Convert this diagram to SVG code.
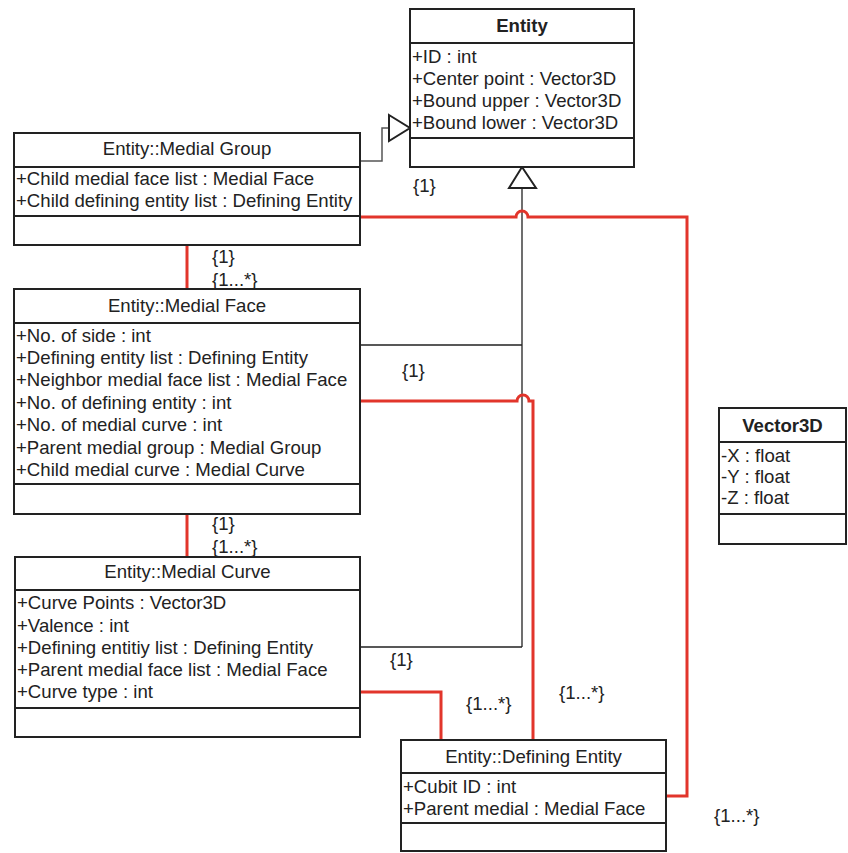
<svg xmlns="http://www.w3.org/2000/svg" width="848" height="853" viewBox="0 0 848 853">
<style>
.box{fill:#fff;stroke:#222;stroke-width:2}
.div{stroke:#222;stroke-width:2}
text{font-family:"Liberation Sans",Arial,sans-serif;font-size:18.6px;fill:#222}
.t{text-anchor:middle}
.b{font-weight:bold}
.red{fill:none;stroke:#e2352b;stroke-width:3}
.blk{fill:none;stroke:#222;stroke-width:1.3}
.gry{fill:none;stroke:#555;stroke-width:1.5}
.tri{fill:#fff;stroke:#222;stroke-width:2;stroke-linejoin:miter}
</style>
<rect width="848" height="853" fill="#fff"/>
<g id="connectors">
<path class="gry" d="M360 161 H382 V128 H389"/>
<path class="blk" d="M522 188 V647 M360 345 H522 M360 647 H522"/>
<path class="red" d="M360 217 H516 a6 6 0 0 1 12 0 H687 V796 H666"/>
<path class="red" d="M360 401 H517 a6 6 0 0 1 12 0 H533 V740"/>
<path class="red" d="M360 692 H441 V740"/>
<path class="red" d="M187 245 V289"/>
<path class="red" d="M187 514 V557"/>
<polygon class="tri" points="389,115 410,128 389,141"/>
<polygon class="tri" points="522,167 536,188 509,188"/>
<text x="413" y="192">{1}</text>
<text x="402" y="377">{1}</text>
<text x="390" y="666">{1}</text>
<text x="466" y="710">{1...*}</text>
<text x="559" y="699">{1...*}</text>
<text x="714" y="822">{1...*}</text>
<text x="212" y="263">{1}</text>
<text x="212" y="286">{1...*}</text>
<text x="212" y="530">{1}</text>
<text x="212" y="553">{1...*}</text>
</g>
<g id="entity">
<rect class="box" x="410" y="9" width="224" height="158"/>
<path class="div" d="M410 43 H634 M410 138 H634"/>
<text class="t b" x="522" y="32">Entity</text>
<text x="412" y="63">+ID : int</text>
<text x="412" y="85">+Center point : Vector3D</text>
<text x="412" y="107">+Bound upper : Vector3D</text>
<text x="412" y="129">+Bound lower : Vector3D</text>
</g>
<g id="medial-group">
<rect class="box" x="14" y="133" width="346" height="112"/>
<path class="div" d="M14 167 H360 M14 216 H360"/>
<text class="t" x="187" y="155">Entity::Medial Group</text>
<text x="16" y="185">+Child medial face list : Medial Face</text>
<text x="16" y="207">+Child defining entity list : Defining Entity</text>
</g>
<g id="medial-face">
<rect class="box" x="14" y="289" width="346" height="225"/>
<path class="div" d="M14 323 H360 M14 484 H360"/>
<text class="t" x="187" y="312">Entity::Medial Face</text>
<text x="16" y="342">+No. of side : int</text>
<text x="16" y="364">+Defining entity list : Defining Entity</text>
<text x="16" y="386">+Neighbor medial face list : Medial Face</text>
<text x="16" y="409">+No. of defining entity : int</text>
<text x="16" y="431">+No. of medial curve : int</text>
<text x="16" y="454">+Parent medial group : Medial Group</text>
<text x="16" y="476">+Child medial curve : Medial Curve</text>
</g>
<g id="medial-curve">
<rect class="box" x="15" y="557" width="345" height="180"/>
<path class="div" d="M15 590 H360 M15 708 H360"/>
<text class="t" x="187.5" y="578">Entity::Medial Curve</text>
<text x="17" y="609">+Curve Points : Vector3D</text>
<text x="17" y="632">+Valence : int</text>
<text x="17" y="654">+Defining entitiy list : Defining Entity</text>
<text x="17" y="676">+Parent medial face list : Medial Face</text>
<text x="17" y="698">+Curve type : int</text>
</g>
<g id="defining-entity">
<rect class="box" x="401" y="740" width="265" height="111"/>
<path class="div" d="M401 773 H666 M401 823 H666"/>
<text class="t" x="533.5" y="763">Entity::Defining Entity</text>
<text x="403" y="793">+Cubit ID : int</text>
<text x="403" y="815">+Parent medial : Medial Face</text>
</g>
<g id="vector3d">
<rect class="box" x="719" y="408" width="127" height="136"/>
<path class="div" d="M719 442 H846 M719 514 H846"/>
<text class="t b" x="782.5" y="432">Vector3D</text>
<text x="721" y="462">-X : float</text>
<text x="721" y="483">-Y : float</text>
<text x="721" y="504">-Z : float</text>
</g>
</svg>
